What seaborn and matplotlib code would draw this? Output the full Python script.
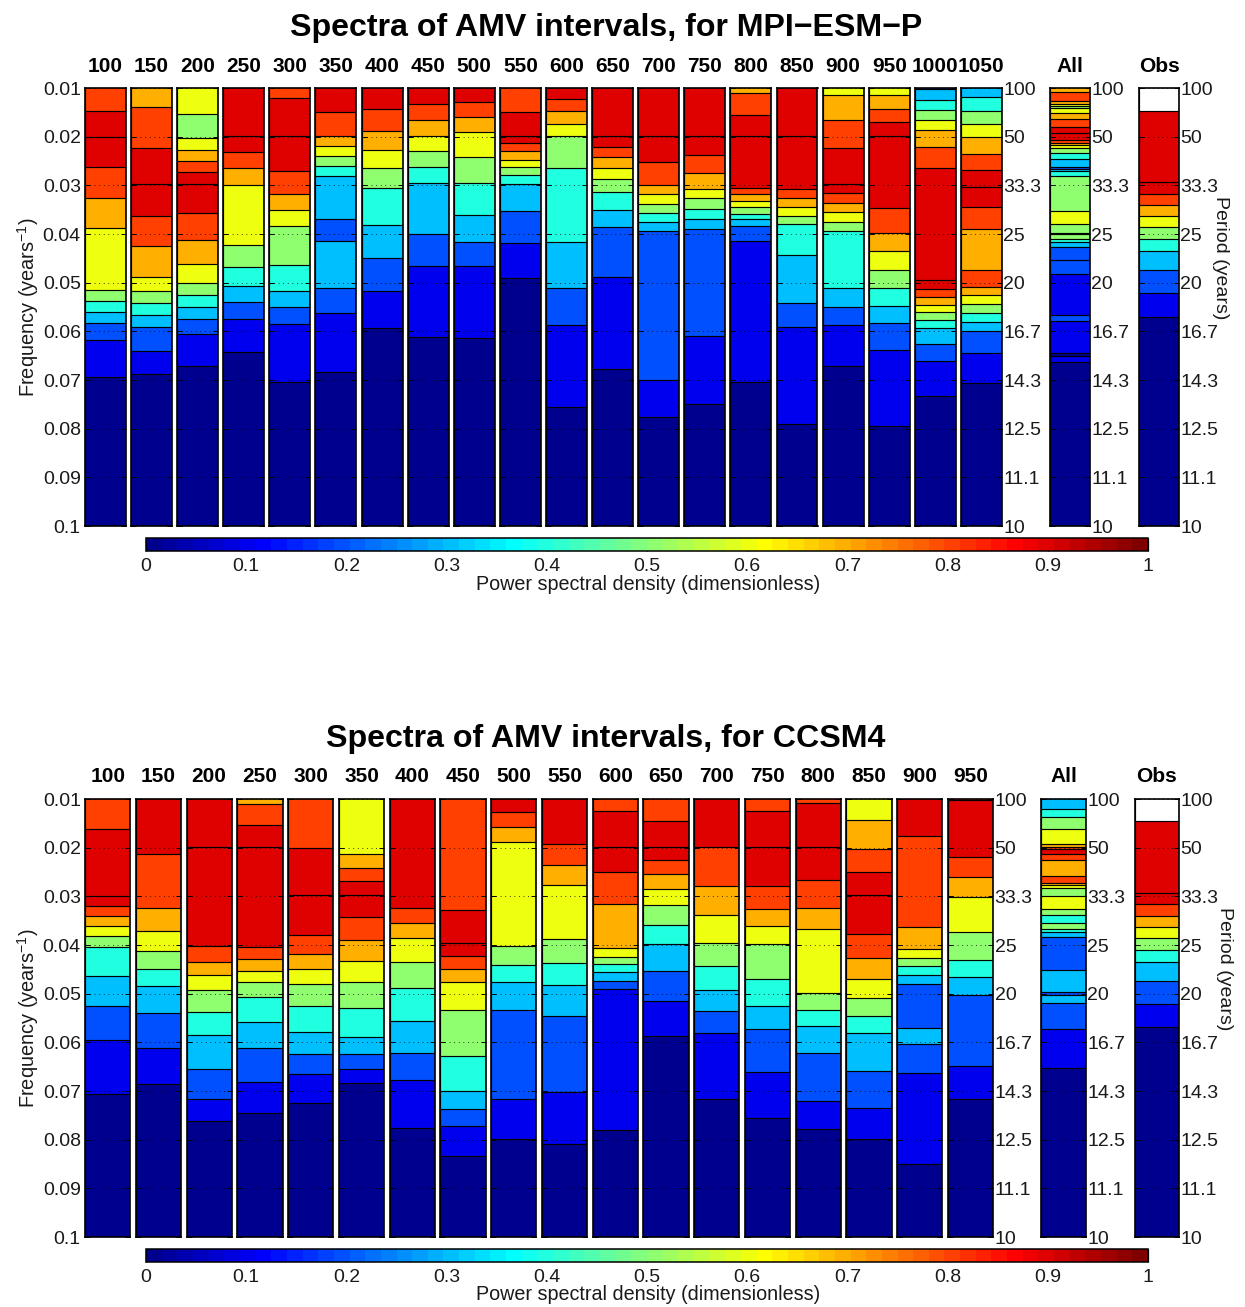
import numpy as np
import pandas as pd
import matplotlib
matplotlib.use("Agg")
import matplotlib.pyplot as plt
from matplotlib.colors import ListedColormap, Normalize
from matplotlib.cm import ScalarMappable
import seaborn as sns

# Contour-band index (0 = 0-0.1 ... 9 = 0.9-1, -1 = no data), listed from the top of each column
# Band boundaries are in units of 0.001 years^-1, from the top of each column
MPI_LABELS = ["100","150","200","250","300","350","400","450","500","550","600","650","700","750","800","850","900","950","1000","1050"]
MPI_LEVELS = [
 [8,9,9,8,7,6,5,4,3,2,1,0],
 [7,8,9,9,8,7,6,5,4,3,2,1,0],
 [6,5,6,7,8,9,9,8,7,6,5,4,3,2,1,0],
 [9,9,8,7,6,5,4,3,2,1,0],
 [8,9,9,8,7,6,5,4,3,2,1,0],
 [9,8,7,6,5,4,3,2,3,2,1,0],
 [9,8,7,6,5,4,3,2,1,0],
 [9,8,7,6,5,4,3,2,1,0],
 [9,8,7,6,5,4,3,2,1,0],
 [8,9,9,8,7,6,5,4,3,2,1,0],
 [9,8,7,6,5,4,3,2,1,0],
 [9,9,8,7,6,5,4,3,2,1,0],
 [9,9,8,7,6,5,4,3,2,1,0],
 [9,9,8,7,6,5,4,3,2,1,0],
 [7,8,9,9,8,7,6,5,4,3,2,1,0],
 [9,9,8,7,6,5,4,3,2,1,0],
 [6,7,8,9,9,8,7,6,5,4,3,2,1,0],
 [6,7,8,9,9,8,7,6,5,4,3,2,1,0],
 [2,3,4,5,6,7,8,9,9,8,7,6,5,4,3,2,1,0],
 [3,4,5,6,7,8,9,9,8,7,8,7,6,5,4,3,2,1,0],
]
MPI_EDGES = [
 [14.8,20,26.3,32.6,38.8,51.6,53.8,56,58.3,61.8,69.4],
 [14,22.4,29.7,36.2,42.5,48.8,51.8,54.2,56.7,59.2,64,68.8],
 [15.4,20.3,22.7,25.1,27.3,29.7,35.6,41.2,46.1,50.1,52.6,55,57.4,60.5,67.1],
 [19.8,23.1,26.4,30,42.3,46.7,50.7,54,57.4,64.2],
 [12,19.9,27.1,31.8,35.1,38.4,46.4,51.8,55.1,58.4,70.4],
 [14.9,19.9,21.9,24,26,28.1,37,41.5,51,56.2,68.3],
 [14.4,18.9,22.7,26.4,30.5,38.1,44.9,51.8,59.4],
 [13.2,16.5,19.8,23,26.3,29.5,40.1,46.6,61.2],
 [12.9,16,19.1,24.1,29.5,36,41.7,46.6,61.4],
 [14.9,19.9,21.4,23,24.7,26.3,27.9,29.7,35.2,41.8,49.1],
 [12.3,14.8,17.3,19.8,26.4,41.7,51,58.7,75.6],
 [19.8,22.1,24.2,26.4,28.6,31.4,35.1,38.6,48.8,67.7],
 [19.9,25.2,30,31.8,33.8,35.6,37.5,39.4,70.1,77.7],
 [19.9,23.7,27.5,30.7,32.7,34.9,36.9,39,61,74.9],
 [11,15.5,19.9,30.5,31.8,33.2,34.5,35.8,37,38.4,41.5,70.5],
 [19.9,30.8,32.7,34.5,36.2,38,44.4,54.2,59.2,79],
 [11.5,16.6,22.4,29.7,31.6,33.6,35.5,37.5,39.4,51,54.9,58.8,67.2],
 [11.4,14.4,17,19.9,34.7,39.7,43.5,47.3,51,54.7,58.3,63.8,79.4],
 [10.3,12.5,14.5,16.6,18.7,22.1,26.5,49.5,51.2,52.9,54.5,56.1,57.7,59.4,62.7,66.1,73.2],
 [11.9,14.7,17.4,20.1,23.5,26.9,30.3,34.5,38.9,47.3,50.8,52.6,54.4,56.3,58.1,59.9,64.5,70.7],
]
MPI_ALL_LEVELS = [7,8,7,6,5,6,7,8,9,9,8,7,6,5,4,3,2,3,4,5,6,5,6,5,4,3,2,2,1,2,1,0,1,0]
MPI_ALL_EDGES = [10.9,12.6,13.2,13.7,14.2,15.1,16.4,18.1,19.3,20.6,21.2,21.8,22.3,23.4,24.5,26.2,26.6,27.1,28,35.2,37.9,39.7,40.1,41,41.6,42.6,45.3,48.2,56.6,57.8,64.4,65.1,66.4]
MPI_OBS_LEVELS = [-1,9,9,8,7,6,5,4,3,2,1,0]
MPI_OBS_EDGES = [14.7,29.4,31.7,34,36.4,38.6,41,43.4,47.3,52.1,57]

CCSM_LABELS = ["100","150","200","250","300","350","400","450","500","550","600","650","700","750","800","850","900","950"]
CCSM_LEVELS = [
 [8,9,9,8,7,6,5,4,3,2,1,0],
 [9,8,7,6,5,4,3,2,1,0],
 [9,9,8,7,6,5,4,3,2,1,0],
 [7,8,9,9,8,7,6,5,4,3,2,1,0],
 [8,9,9,8,7,6,5,4,3,2,1,0],
 [6,7,8,9,9,8,7,6,5,4,3,2,1,0],
 [9,8,7,6,5,4,3,2,1,0],
 [8,9,9,8,7,6,5,4,3,2,1,0],
 [9,8,7,6,5,4,3,2,1,0],
 [9,8,7,6,5,4,3,2,1,0],
 [8,9,9,8,7,6,5,4,3,2,1,0],
 [8,9,9,8,7,6,5,4,3,2,1,0],
 [9,8,7,6,5,4,3,2,1,0],
 [8,9,9,8,7,6,5,4,3,2,1,0],
 [8,9,9,8,7,6,5,4,3,2,1,0],
 [6,7,8,9,9,8,7,6,5,4,3,2,1,0],
 [9,8,7,6,5,4,3,2,3,2,1,0],
 [8,9,8,7,6,5,4,3,2,1,0],
]
CCSM_EDGES = [
 [16.1,29.9,31.9,34,36,38.1,40.5,46.4,52.6,59.6,70.7],
 [21.4,32.3,37.2,41.3,44.9,48.4,54,61.1,68.6],
 [19.8,40.2,43.4,46.2,49.2,53.8,58.5,65.5,71.6,76.2],
 [11.1,15.4,19.8,40.5,42.9,45.3,47.7,50.7,55.8,61.2,68.1,74.5],
 [20.1,29.7,38,41.9,45,48.1,52.5,57.9,62.4,66.6,72.5],
 [21.4,24.2,26.9,29.7,34.2,38.9,43.3,47.6,53,59,62.4,65.4,68.4],
 [32.3,35.5,38.6,43.4,48.9,55.6,62.1,67.8,77.6],
 [32.9,39.5,42.2,44.9,47.7,53.4,62.9,69.9,73.6,77.1,83.4],
 [12.7,15.8,18.8,40.2,44.1,47.7,53.4,71.6,79.9],
 [19.2,23.5,27.6,38.8,43.8,48.3,54.5,70.3,80.8],
 [12.4,19.8,24.9,31.5,40.7,42.4,44,45.6,47.3,49,78.1],
 [14.6,19.8,22.6,25.5,28.4,31.7,35.8,39.8,45.4,51.6,58.7],
 [19.9,27.8,33.9,39.6,44.4,49.3,53.6,58,71.7],
 [12.5,19.8,27.9,32.5,36,39.7,46.9,52.5,57.2,66,75.5],
 [10.9,19.8,26.6,32.3,36.8,49.9,53.4,56.7,62.1,72,77.9],
 [14.4,20.3,25.1,29.7,37.7,42.7,46.9,50.8,54.5,58.1,65.9,73.4,79.8],
 [17.5,36.4,40.9,42.6,44.4,46.2,48,57.1,60.4,66.3,84.9],
 [10.3,21.9,26.1,30.2,37.4,43,46.6,50.3,64.9,71.6],
]
CCSM_ALL_LEVELS = [3,4,5,6,7,8,9,8,7,8,7,6,5,6,5,4,5,4,3,2,3,2,3,2,1,0]
CCSM_ALL_EDGES = [12.1,13.8,16.1,19.2,19.8,20.2,21.2,22.6,25.8,27.2,27.7,28.2,30,32.7,33.8,35.5,36.8,37.3,38.3,45.2,49.7,50.3,52,57.3,65.2]
CCSM_OBS_LEVELS = [-1,9,9,8,7,6,5,4,3,2,1,0]
CCSM_OBS_EDGES = [14.6,29.3,31.6,34,36.3,38.6,41,43.4,47.3,52.1,56.9]

FREQ_TICKS = [0.01,0.02,0.03,0.04,0.05,0.06,0.07,0.08,0.09,0.1]
FREQ_LABELS = ["0.01","0.02","0.03","0.04","0.05","0.06","0.07","0.08","0.09","0.1"]
PERIOD_LABELS = ["100","50","33.3","25","20","16.7","14.3","12.5","11.1","10"]
CB_TICKS = [0,0.1,0.2,0.3,0.4,0.5,0.6,0.7,0.8,0.9,1]
CB_LABELS = ["0","0.1","0.2","0.3","0.4","0.5","0.6","0.7","0.8","0.9","1"]
BAND_COLORS = {-1:"#FFFFFF",0:"#00008F",1:"#0000EF",2:"#0050FF",3:"#00BFFF",4:"#20FFDF",
               5:"#8FFF70",6:"#EFFF10",7:"#FFAF00",8:"#FF4000",9:"#DF0000"}

sns.set_theme(style="ticks")
plt.rcParams["font.family"] = ["Liberation Sans", "DejaVu Sans"]
plt.rcParams["mathtext.fontset"] = "custom"
plt.rcParams["mathtext.rm"] = "Liberation Sans"
plt.rcParams["mathtext.default"] = "regular"
TXT = "#1a1a1a"
W, H = 1245, 1307
fig = plt.figure(figsize=(W/100, H/100), dpi=100, facecolor="white")

def add_ax(x0, x1, y0, y1):
    return fig.add_axes([x0/W, 1-y1/H, (x1-x0)/W, (y1-y0)/H])

def ftext(x, y, s, **kw):
    fig.text(x/W, 1-y/H, s, ha=kw.pop("ha","center"), va=kw.pop("va","center"), **kw)

def column(x0, x1, y0, y1, levels, edges, side=None):
    ax = add_ax(x0, x1, y0, y1)
    lows = list(edges) + [100.0]
    keys = [f"s{i}" for i in range(len(levels))]
    df = pd.DataFrame({"col": ["c"]*len(levels), "freq": np.array(lows)*0.001, "seg": keys})
    order = keys[::-1]   # lowest band first; each shallower band is drawn over it
    pal = {k: BAND_COLORS[l] for k, l in zip(keys, levels)}
    sns.barplot(data=df, x="col", y="freq", hue="seg", hue_order=order, palette=pal,
                dodge=False, width=1, saturation=1, errorbar=None, legend=False,
                edgecolor="black", linewidth=0.85, ax=ax)
    ax.set_xlim(-0.5, 0.5)
    ax.set_ylim(0.1, 0.01)
    ax.set_xlabel(""); ax.set_ylabel("")
    ax.set_xticks([])
    ax.set_yticks(FREQ_TICKS)
    ax.set_axisbelow(False)
    ax.grid(axis="y", color="black", linestyle=(0, (1, 4.5)), linewidth=0.6)
    ax.tick_params(axis="y", direction="in", length=3.5, width=0.7, color="black",
                   left=True, right=True, labelleft=False, labelright=False,
                   labelsize=14, labelcolor=TXT, pad=3)
    if side == "left":
        ax.set_yticklabels(FREQ_LABELS)
        ax.tick_params(axis="y", labelleft=True)
    elif side == "right":
        ax.yaxis.set_ticks_position("both")
        ax.set_yticklabels(PERIOD_LABELS)
        ax.tick_params(axis="y", labelright=True, pad=1)
    for s in ax.spines.values():
        s.set_visible(True); s.set_linewidth(1.2); s.set_color("black")
    return ax

def jet64():
    t = (np.arange(64)+1)/64
    return ListedColormap(np.clip(np.c_[1.5-np.abs(4*t-3), 1.5-np.abs(4*t-2), 1.5-np.abs(4*t-1)], 0, 1))

def colorbar(y0):
    cax = add_ax(146, 1148, y0, y0+13)
    cb = fig.colorbar(ScalarMappable(Normalize(0, 1), jet64()), cax=cax, orientation="horizontal")
    cb.set_ticks(CB_TICKS)
    cb.set_ticklabels(CB_LABELS)
    cb.ax.tick_params(axis="x", direction="in", length=9.4, width=0.9, color="black",
                      labelsize=14, labelcolor=TXT, pad=5)
    cb.outline.set_linewidth(1.1)
    cb.outline.set_edgecolor("black")
    ftext(648, y0+46, "Power spectral density (dimensionless)", fontsize=14.25, color=TXT)

def panel(top, title, labels, levels, edges, all_lv, all_ed, obs_lv, obs_ed, first, pitch, cw, all_x, obs_x, px):
    bottom = top+438
    for i, (lab, lv, ed) in enumerate(zip(labels, levels, edges)):
        x0 = first+pitch*i
        side = "left" if i == 0 else ("right" if i == len(labels)-1 else None)
        column(x0, x0+cw, top, bottom, lv, ed, side)
        ftext(x0+cw/2, top-22, lab, fontsize=15, fontweight="bold", color="black")
    column(all_x[0], all_x[1], top, bottom, all_lv, all_ed, "right")
    ftext(sum(all_x)/2, top-22, "All", fontsize=15, fontweight="bold", color="black")
    column(obs_x[0], obs_x[1], top, bottom, obs_lv, obs_ed, "right")
    ftext(sum(obs_x)/2, top-22, "Obs", fontsize=15, fontweight="bold", color="black")
    ftext(606, top-60, title, fontsize=23.1, fontweight="bold", color="black")
    ftext(28, top+219, "Frequency (years$^{-1}$)", fontsize=14.4, rotation=90, color=TXT)
    ftext(px, top+170, "Period (years)", fontsize=14, rotation=270, color=TXT)
    colorbar(bottom+12)

panel(88, "Spectra of AMV intervals, for MPI\u2212ESM\u2212P", MPI_LABELS, MPI_LEVELS, MPI_EDGES,
      MPI_ALL_LEVELS, MPI_ALL_EDGES, MPI_OBS_LEVELS, MPI_OBS_EDGES,
      85, 46.1, 41, (1050, 1090), (1139, 1179), 1220)
panel(799, "Spectra of AMV intervals, for CCSM4", CCSM_LABELS, CCSM_LEVELS, CCSM_EDGES,
      CCSM_ALL_LEVELS, CCSM_ALL_EDGES, CCSM_OBS_LEVELS, CCSM_OBS_EDGES,
      85, 50.76, 45.3, (1041, 1086), (1134.7, 1179), 1225)

fig.savefig("out.png", dpi=100, facecolor="white")
